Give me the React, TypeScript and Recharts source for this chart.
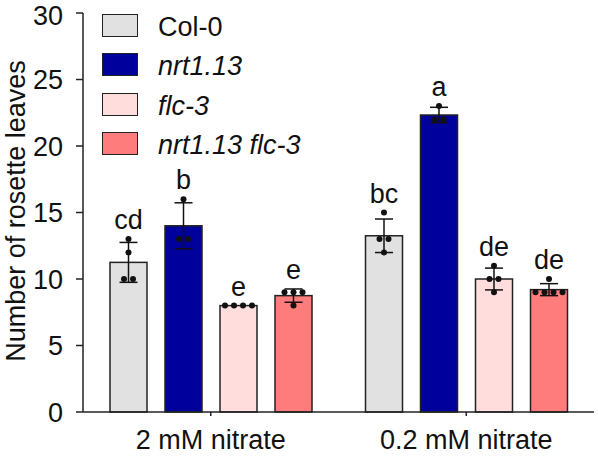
import React from "react";
import { Bar, BarChart, ErrorBar, Legend, XAxis, YAxis } from "recharts";

const conditions = ["2 mM nitrate", "0.2 mM nitrate"];
const genotypes = ["Col-0", "nrt1.13", "flc-3", "nrt1.13 flc-3"];
const keys = ["col0", "nrt", "flc", "dbl"];
const colors = ["#e1e1e1", "#00009c", "#ffdddd", "#ff7c7c"];

// means
const col0Mean = [11.25, 13.25];
const nrtMean = [14, 22.33];
const flcMean = [8, 10];
const dblMean = [8.75, 9.2];

// SD (error bar half-lengths)
const col0Sd = [1.5, 1.26];
const nrtSd = [1.73, 0.58];
const flcSd = [0, 0.82];
const dblSd = [0.5, 0.45];

// individual plants
const col0Points = [[13, 12, 10, 10], [15, 13, 13, 12]];
const nrtPoints = [[16, 13, 13], [23, 22, 22]];
const flcPoints = [[8, 8, 8, 8], [11, 10, 10, 9]];
const dblPoints = [[9, 9, 9, 8], [10, 9, 9, 9, 9]];

// significance letters
const col0Letters = ["cd", "bc"];
const nrtLetters = ["b", "a"];
const flcLetters = ["e", "de"];
const dblLetters = ["e", "de"];

const yTicks = [0, 5, 10, 15, 20, 25, 30];

const means = [col0Mean, nrtMean, flcMean, dblMean];
const sds = [col0Sd, nrtSd, flcSd, dblSd];
const points = [col0Points, nrtPoints, flcPoints, dblPoints];
const letters = [col0Letters, nrtLetters, flcLetters, dblLetters];

const data = conditions.map((condition, i) => {
  const row: any = { condition };
  keys.forEach((k, g) => {
    row[k] = means[g][i];
    row[k + "Sd"] = sds[g][i];
    row[k + "Pts"] = points[g][i];
    row[k + "Letter"] = letters[g][i];
  });
  return row;
});

const FONT = "'Liberation Sans', Arial, sans-serif";
const INK = "#111";
const FS = 27;

function makeShape(key: string) {
  return (props: any) => {
    const { x, y, width, height, payload, fill } = props;
    const mean = payload[key];
    const sd = payload[key + "Sd"];
    const pts: number[] = payload[key + "Pts"];
    const letter = payload[key + "Letter"];
    const k = height / mean;
    const base = y + height;
    const toY = (v: number) => base - v * k;
    const cx = x + width / 2;

    // spread dots that share a value side by side
    const counts: Record<number, number> = {};
    pts.forEach((v) => (counts[v] = (counts[v] || 0) + 1));
    const seen: Record<number, number> = {};
    const dots = pts.map((v, i) => {
      seen[v] = (seen[v] ?? -1) + 1;
      const dx = (seen[v] - (counts[v] - 1) / 2) * 9;
      return <circle key={i} cx={cx + dx} cy={toY(v)} r={3} fill={INK} />;
    });

    const top = Math.max(mean + sd, ...pts);
    return (
      <g>
        <rect x={x} y={y} width={width} height={height} fill={fill} stroke="#222" strokeWidth={1.5} />
        {dots}
        <text x={cx} y={toY(top) - 10} textAnchor="middle" fontSize={FS} fill={INK} fontFamily={FONT}>
          {letter}
        </text>
      </g>
    );
  };
}

function LegendBox(props: any) {
  const payload = [...(props.payload || [])].sort(
    (a: any, b: any) => genotypes.indexOf(a.value) - genotypes.indexOf(b.value)
  );
  return (
    <div style={{ fontFamily: FONT, fontSize: FS, color: INK }}>
      {payload.map((entry: any, i: number) => (
        <div key={i} style={{ display: "flex", alignItems: "center", height: 39.3 }}>
          <div
            style={{
              width: 34,
              height: 21,
              background: entry.color,
              border: "1.5px solid #222",
            }}
          />
          <span
            style={{
              marginLeft: 20,
              position: "relative",
              top: 2,
              fontStyle: entry.value === "Col-0" ? "normal" : "italic",
              whiteSpace: "nowrap",
            }}
          >
            {entry.value}
          </span>
        </div>
      ))}
    </div>
  );
}

export default function App() {
  return (
    <div style={{ position: "absolute", left: 0, top: 0, fontFamily: FONT }}>
      <BarChart
        width={598}
        height={456}
        data={data}
        margin={{ top: 13, right: 4, left: 0, bottom: 0 }}
        barSize={37}
        barGap={18}
      >
        <XAxis
          dataKey="condition"
          height={44}
          axisLine={{ stroke: "#222", strokeWidth: 1.5 }}
          tickLine={{ stroke: "#222", strokeWidth: 1.5 }}
          tickSize={4}
          tickMargin={14}
          tick={{ fontSize: FS, fill: INK, fontFamily: FONT }}
        />
        <YAxis
          domain={[0, 30]}
          ticks={yTicks}
          width={83}
          axisLine={{ stroke: "#222", strokeWidth: 1.5 }}
          tickLine={{ stroke: "#222", strokeWidth: 1.5 }}
          tickSize={7}
          tickMargin={13}
          tick={{ fontSize: FS, fill: INK, fontFamily: FONT }}
          label={{
            value: "Number of rosette leaves",
            content: () => (
              <text
                transform="translate(25,211) rotate(-90)"
                textAnchor="middle"
                fontSize={FS}
                fill={INK}
                fontFamily={FONT}
              >
                Number of rosette leaves
              </text>
            ),
          }}
        />
        <Legend
          layout="vertical"
          align="center"
          verticalAlign="middle"
          itemSorter={null as any}
          content={<LegendBox />}
          wrapperStyle={{ top: 6, left: 102, width: "auto" }}
        />
        {keys.map((k, g) => (
          <Bar
            key={k}
            dataKey={k}
            name={genotypes[g]}
            fill={colors[g]}
            shape={makeShape(k)}
            isAnimationActive={false}
          >
            <ErrorBar dataKey={k + "Sd"} width={9} stroke={INK} strokeWidth={1.5} direction="y" />
          </Bar>
        ))}
      </BarChart>
    </div>
  );
}
